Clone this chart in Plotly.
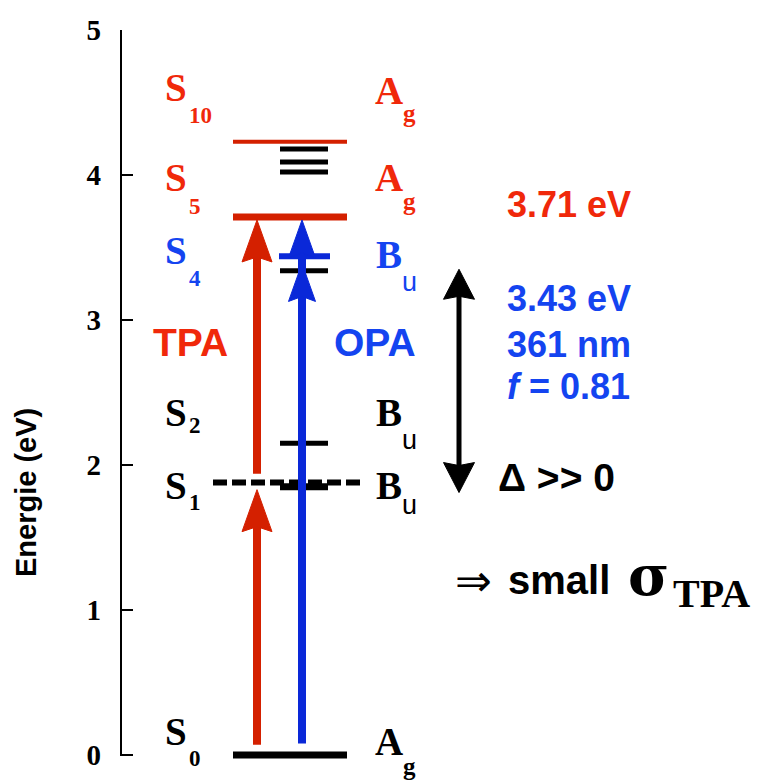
import plotly.graph_objects as go

# ---------------- data (energies in eV) ----------------
y_ticks = [0, 1, 2, 3, 4, 5]

# long levels (S0, S5, S10)
long_E = [0.00, 3.71, 4.23]
long_col = ["black", "red", "red"]
long_w = [7, 7, 4]

# short black levels (other computed states)
short_black_E = [4.18, 4.09, 4.02, 3.34, 2.15, 1.85]
short_black_w = [5, 5, 5, 5, 5, 7]

# blue S4 level
s4_E = 3.44
# dashed S1 level
s1_E = 1.88

# arrows: (start E, tip E)
tpa_steps = [(0.07, 1.83), (1.94, 3.69)]
opa_arrow = (0.08, 3.69)
opa_second_tip = 3.39
delta_arrow = (1.81, 3.35)

state_labels = ["S10", "S5", "S4", "S2", "S1", "S0"]
sym_labels = ["Ag", "Ag", "Bu", "Bu", "Bu", "Ag"]

# ---------------- layout constants ----------------
W, H = 760, 781
Y0_PX, PX_PER_EV = 755, 145.0
TOP_PX = 30
BOT_MARGIN = 4
y_lo = -(H - BOT_MARGIN - Y0_PX) / PX_PER_EV
L = 120

RED_LINE = "#D42000"
RED_TXT = "#F0280A"
BLUE_LINE = "#0A28D8"
BLUE_TXT = "#1444F0"
COL = {"black": "black", "red": RED_LINE, "blue": BLUE_LINE}

SERIF = "Liberation Serif, Times New Roman, serif"
SANS = "Liberation Sans, Arial, sans-serif"


def ev(px):
    return (Y0_PX - px) / PX_PER_EV


def d(px):
    return px / PX_PER_EV


fig = go.Figure()
fig.add_trace(go.Scatter(x=[L], y=[0], mode="markers", marker=dict(opacity=0),
                         hoverinfo="skip", showlegend=False))

shapes = []
# axis line
shapes.append(dict(type="line", xref="x", yref="y", x0=121, x1=121, y0=0, y1=5,
                   line=dict(color="black", width=2)))

# long levels
for e, c, w in zip(long_E, long_col, long_w):
    shapes.append(dict(type="line", xref="x", yref="y", x0=233, x1=347, y0=e, y1=e,
                       line=dict(color=COL[c], width=w)))
# short black
for e, w in zip(short_black_E, short_black_w):
    shapes.append(dict(type="line", xref="x", yref="y", x0=280, x1=328, y0=e, y1=e,
                       line=dict(color="black", width=w)))
# dashed S1
shapes.append(dict(type="line", xref="x", yref="y", x0=213, x1=363, y0=s1_E, y1=s1_E,
                   line=dict(color="black", width=6, dash="14px,5px")))
# blue S4
shapes.append(dict(type="line", xref="x", yref="y", x0=279, x1=330, y0=s4_E, y1=s4_E,
                   line=dict(color=BLUE_LINE, width=6)))


def head(x, tip, length_px, width_px, color, up=True, notch_px=5):
    s = 1 if up else -1
    base = tip - s * d(length_px)
    mid = base + s * d(notch_px)
    hw = width_px / 2
    path = (f"M {x},{tip} L {x - hw},{base} L {x},{mid} L {x + hw},{base} Z")
    return dict(type="path", xref="x", yref="y", path=path, fillcolor=color,
                line=dict(color=color, width=1))


def shaft(x, y0, y1, color, w):
    return dict(type="line", xref="x", yref="y", x0=x, x1=x, y0=y0, y1=y1,
                line=dict(color=color, width=w))


# TPA arrows
for e0, e1 in tpa_steps:
    shapes.append(shaft(257, e0, e1 - d(30), RED_LINE, 8))
    shapes.append(head(257, e1, 42, 30, RED_LINE))
# OPA arrow
shapes.append(shaft(302, opa_arrow[0], opa_arrow[1] - d(30), BLUE_LINE, 8))
shapes.append(head(302, opa_second_tip, 38, 27, BLUE_LINE))
shapes.append(head(302, opa_arrow[1], 38, 27, BLUE_LINE))
# delta double arrow
shapes.append(shaft(459, delta_arrow[0] + d(25), delta_arrow[1] - d(25), "black", 5))
shapes.append(head(459, delta_arrow[1], 30, 31, "black", up=True, notch_px=3))
shapes.append(head(459, delta_arrow[0], 30, 31, "black", up=False, notch_px=3))

ann = []


def txt(x, y_px, text, size, color, family=SANS, bold=True, xanchor="center",
        italic=False, angle=0):
    ann.append(dict(x=x, y=ev(y_px), xref="x", yref="y", text=text, showarrow=False,
                    xanchor=xanchor, yanchor="middle", textangle=angle,
                    font=dict(size=size, color=color, family=family,
                              weight="bold" if bold else "normal",
                              style="italic" if italic else "normal")))


# state labels: (S center y, sub center y)
left_pos = [(87, 115), (177, 206), (250, 278), (412, 425), (485, 502), (731, 758)]
left_col = [RED_TXT, RED_TXT, BLUE_TXT, "black", "black", "black"]
for lab, (ys, ysub), c in zip(state_labels, left_pos, left_col):
    txt(176, ys, lab[0], 39, c, SERIF)
    txt(187, ysub, lab[1:], 23, c, SERIF, xanchor="left")

right_pos = [(90, 113), (177, 201), (254, 282), (412, 440), (485, 505), (741, 766)]
for lab, (ys, ysub), c in zip(sym_labels, right_pos, left_col):
    txt(389, ys, lab[0], 39, c, SERIF)
    if lab[1] == "g":
        txt(409, ysub, "g", 25, c, SERIF)
    else:
        txt(409, ysub, "u", 27, c, SANS, bold=False)

txt(190, 342, "TPA", 39, RED_TXT)
txt(374.5, 342, "OPA", 39, BLUE_TXT)

txt(505, 204, "3.71 eV", 36, RED_TXT, xanchor="left")
txt(505, 298, "3.43 eV", 36, BLUE_TXT, xanchor="left")
txt(505, 344, "361 nm", 36, BLUE_TXT, xanchor="left")
txt(505, 386, "<i>f</i> = 0.81", 36, BLUE_TXT, xanchor="left")
txt(496, 477, "Δ >> 0", 39, "black", xanchor="left")

txt(473, 580, "⇒", 44, "black", "DejaVu Sans, sans-serif", bold=False)
txt(506, 580, "small", 40, "black", xanchor="left")
txt(648, 575, "σ", 56, "black", "DejaVu Serif, serif", bold=True)
txt(671, 593, "TPA", 40, "black", SERIF, xanchor="left")

# y title
ann.append(dict(x=0, xref="paper", xshift=26 - L,
                y=(H - BOT_MARGIN - 493) / (H - BOT_MARGIN - TOP_PX), yref="paper",
                text="Energie (eV)", showarrow=False, textangle=-90,
                xanchor="center", yanchor="middle",
                font=dict(size=29, color="black", family=SANS, weight="bold")))

fig.update_layout(
    width=W, height=H,
    margin=dict(l=L, r=0, t=TOP_PX, b=BOT_MARGIN, pad=0),
    paper_bgcolor="white", plot_bgcolor="white",
    showlegend=False,
    shapes=shapes, annotations=ann,
    xaxis=dict(range=[L, W], visible=False, fixedrange=True),
    yaxis=dict(range=[y_lo, 5.0], tickvals=y_ticks, ticktext=[str(t) for t in y_ticks],
               ticks="inside", ticklen=13, tickwidth=2, tickcolor="black",
               showline=False, showgrid=False, zeroline=False,
               ticklabelstandoff=18,
               tickfont=dict(family=SERIF, size=29, color="black", weight="bold")),
)

fig.write_html("out.html")
